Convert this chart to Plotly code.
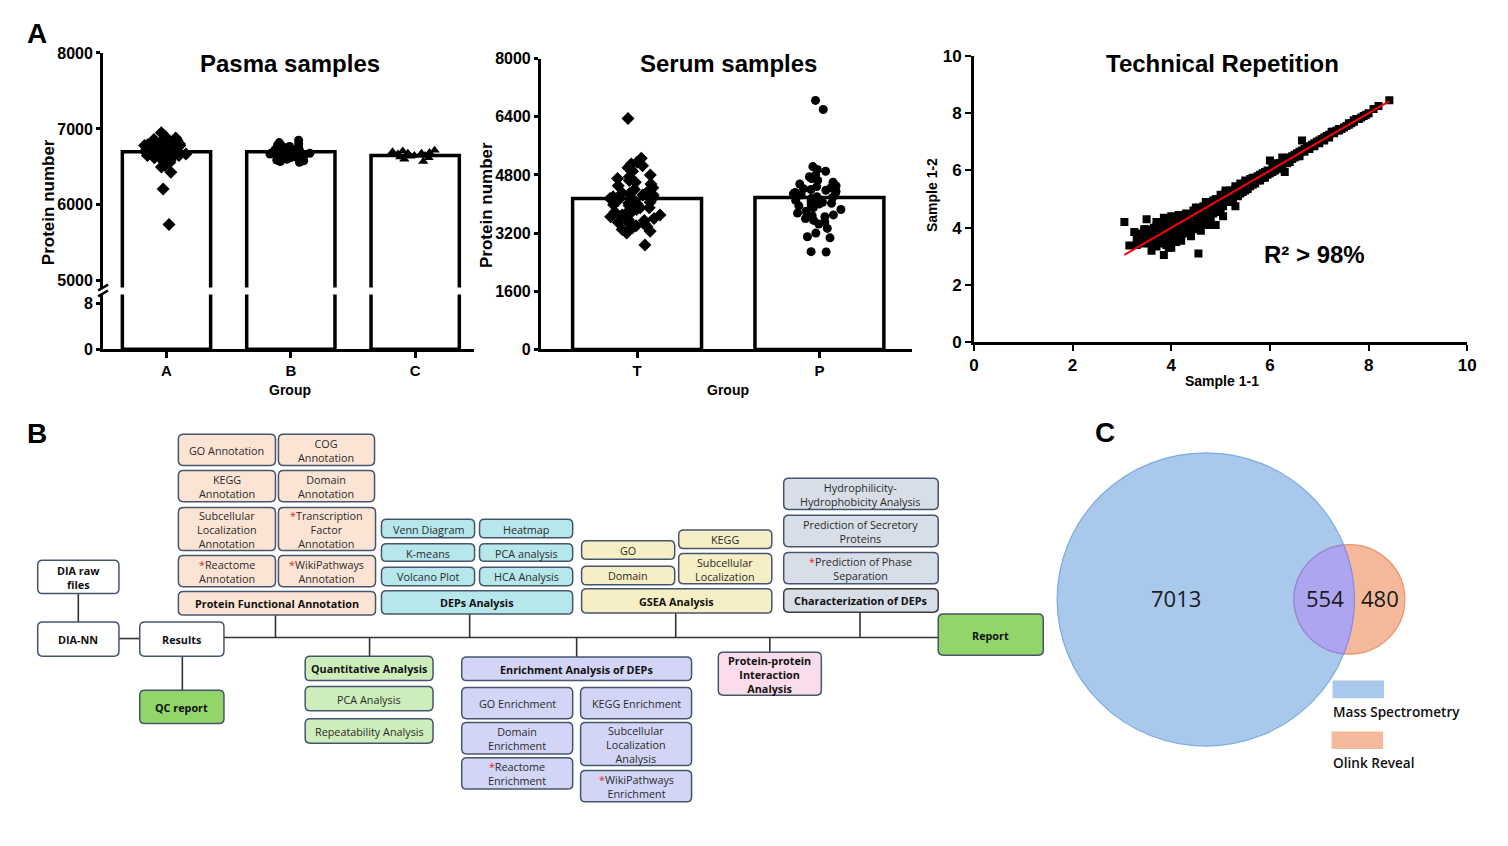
import numpy as np
import plotly.graph_objects as go

W, H = 1508, 846

# ---------------- DATA ----------------
plasma_groups = ["A", "B", "C"]
plasma_means = [6700, 6700, 6650]
plasma_A = [6950, 6900, 6880, 6860, 6850, 6840, 6830, 6820, 6810, 6800, 6800, 6790,
            6780, 6770, 6760, 6750, 6750, 6740, 6730, 6720, 6710, 6700, 6700, 6690,
            6680, 6670, 6660, 6650, 6640, 6630, 6620, 6600, 6580, 6560, 6520, 6500,
            6430, 6210, 5740, 6590, 6650, 6720, 6780]
plasma_B = [6850, 6820, 6800, 6790, 6780, 6770, 6760, 6750, 6740, 6730, 6720, 6720,
            6710, 6700, 6700, 6690, 6690, 6680, 6680, 6670, 6660, 6660, 6650, 6650,
            6640, 6630, 6620, 6610, 6600, 6590, 6580, 6570, 6560]
plasma_C = [6720, 6710, 6700, 6690, 6680, 6680, 6670, 6670, 6660, 6650, 6650, 6640,
            6630, 6620, 6600, 6570]

serum_groups = ["T", "P"]
serum_means = [4150, 4180]
serum_T = [6350, 5260, 5150, 5100, 5050, 5000, 4900, 4800, 4750, 4700, 4650, 4600,
           4550, 4500, 4450, 4400, 4350, 4300, 4280, 4250, 4200, 4180, 4150, 4100,
           4080, 4050, 4000, 3980, 3950, 3900, 3850, 3800, 3780, 3750, 3700, 3650,
           3600, 3550, 3500, 3480, 3450, 3400, 3380, 3350, 3300, 3250, 3200, 2870,
           4250, 3900, 3700, 4020, 3560]
serum_P = [6850, 6600, 5030, 4950, 4900, 4800, 4750, 4700, 4650, 4600, 4550, 4500,
           4480, 4450, 4400, 4380, 4350, 4300, 4280, 4250, 4200, 4180, 4150, 4120,
           4100, 4080, 4050, 4000, 3980, 3950, 3900, 3850, 3800, 3750, 3700, 3680,
           3650, 3600, 3550, 3500, 3450, 3330, 3200, 3070, 3100, 2690, 2680, 4420,
           4320, 4020]

rep_x = [3.05, 3.15, 3.25, 3.3, 3.35, 3.4, 3.45, 3.5, 3.5, 3.55, 3.6, 3.6, 3.65, 3.7, 3.7,
         3.75, 3.75, 3.8, 3.8, 3.85, 3.85, 3.9, 3.9, 3.95, 3.95, 4.0, 4.0, 4.0, 4.05, 4.05,
         4.1, 4.1, 4.15, 4.15, 4.2, 4.2, 4.25, 4.3, 4.3, 4.35, 4.35, 4.4, 4.45, 4.45, 4.5,
         4.5, 4.55, 4.55, 4.6, 4.6, 4.65, 4.7, 4.7, 4.75, 4.8, 4.8, 4.85, 4.9, 4.9, 4.95,
         5.0, 5.0, 5.05, 5.05, 5.1, 5.15, 5.2, 5.2, 5.25, 5.3, 5.3, 5.35, 5.4, 5.45, 5.5,
         5.55, 5.6, 5.65, 5.7, 5.75, 5.8, 5.85, 5.9, 5.95, 6.0, 6.0, 6.05, 6.1, 6.15, 6.2,
         6.25, 6.3, 6.3, 6.35, 6.4, 6.45, 6.5, 6.55, 6.6, 6.65, 6.65, 6.7, 6.75, 6.8, 6.85,
         6.9, 6.95, 7.0, 7.05, 7.1, 7.15, 7.2, 7.25, 7.3, 7.35, 7.4, 7.5, 7.55, 7.6, 7.7,
         7.8, 8.1, 8.2, 8.42,
         3.35, 3.45, 3.55, 3.65, 3.75, 3.85, 3.95, 4.05, 4.1, 4.2, 4.25, 4.4, 4.5, 4.6,
         4.65, 4.75, 4.85, 4.95, 5.1, 5.25, 5.4, 5.5, 5.6, 5.7, 5.8, 5.9, 6.1, 6.2, 6.4,
         6.5, 6.6, 6.9, 7.45, 7.65, 7.75, 7.85, 7.95,
         3.5, 3.7, 3.9, 4.1, 4.3, 4.5, 4.7, 4.9, 5.1, 5.3, 5.5,
         3.3, 3.4, 3.45, 3.5, 3.55, 3.6, 3.65, 3.7, 3.75, 3.8, 3.85, 3.9, 3.95, 4.0, 4.0,
         4.05, 4.1, 4.15, 4.2, 4.25, 4.3, 4.35, 4.4, 4.45, 4.5, 4.55, 4.6, 4.65, 4.7, 4.75,
         4.8, 4.85, 4.9, 4.95, 5.0, 5.05, 5.1, 5.15, 5.2, 5.25, 5.3, 5.35, 5.4, 5.45, 5.5,
         5.55, 5.6, 5.65, 5.75, 5.85, 5.95, 6.05, 6.15, 6.25, 6.35, 6.45, 6.55, 6.7, 6.8,
         7.0, 7.1, 7.2, 7.3, 7.4, 7.6, 7.7, 7.9, 8.0]
rep_y = [4.2, 3.38, 3.85, 3.6, 3.5, 3.75, 3.95, 4.3, 3.6, 3.45, 3.2, 3.8, 4.0, 3.55, 3.35,
         4.1, 3.7, 3.9, 3.45, 3.05, 4.35, 3.6, 4.2, 3.3, 3.85, 4.4, 4.0, 3.55, 3.75, 4.25,
         3.9, 3.5, 4.45, 4.05, 3.7, 4.3, 3.95, 4.5, 4.15, 3.8, 4.4, 4.0, 4.6, 4.25, 3.95,
         4.5, 3.1, 4.7, 4.3, 4.1, 4.75, 4.5, 4.2, 4.85, 4.6, 4.35, 4.95, 4.1, 4.7, 5.0,
         4.8, 4.55, 4.4, 5.1, 4.9, 5.2, 4.95, 5.05, 5.3, 4.75, 5.15, 5.4, 5.2, 5.5, 5.3,
         5.6, 5.45, 5.75, 5.55, 5.8, 5.65, 5.9, 5.75, 6.0, 6.35, 5.9, 6.1, 6.0, 6.25, 6.1,
         6.45, 5.95, 6.3, 6.4, 6.3, 6.5, 6.45, 6.6, 6.5, 7.05, 6.7, 6.65, 6.8, 6.75, 6.9,
         6.85, 7.0, 6.95, 7.1, 7.05, 7.2, 7.15, 7.35, 7.3, 7.4, 7.4, 7.5, 7.55, 7.65, 7.7,
         7.8, 8.15, 8.25, 8.45,
         3.8, 3.55, 3.9, 3.6, 3.9, 3.7, 4.1, 3.95, 4.2, 4.1, 4.2, 4.45, 4.3, 4.55,
         4.4, 4.6, 4.7, 4.85, 5.05, 5.1, 5.4, 5.55, 5.6, 5.75, 5.85, 5.95, 6.15, 6.25, 6.45,
         6.55, 6.65, 6.95, 7.45, 7.65, 7.8, 7.85, 7.95,
         3.95, 4.05, 4.0, 4.3, 4.35, 4.7, 4.9, 5.0, 5.3, 5.45, 5.65,
         3.4, 3.45, 3.7, 3.85, 3.65, 3.5, 3.8, 4.2, 3.5, 3.65, 3.95, 3.4, 4.3, 3.8, 3.3,
         4.1, 3.65, 3.85, 3.55, 4.4, 3.9, 4.15, 3.7, 4.05, 4.7, 4.2, 3.9, 4.6, 4.35, 4.1,
         4.8, 4.5, 4.9, 4.6, 5.15, 4.75, 5.2, 4.9, 5.3, 5.0, 5.35, 5.1, 5.55, 5.25, 5.45,
         5.35, 5.7, 5.5, 5.65, 5.75, 5.85, 5.95, 6.05, 6.2, 6.25, 6.4, 6.5, 6.75, 6.85,
         7.05, 7.15, 7.25, 7.35, 7.45, 7.6, 7.75, 7.9, 8.0]
fit_x = [3.05, 8.42]
fit_y = [3.05, 8.42]
r2_label = "R² > 98%"

venn_sets = ["Mass Spectrometry", "Olink Reveal"]
venn_counts = [7013, 554, 480]   # MS only, both, Olink only

plasma_ticks_upper = [5000, 6000, 7000, 8000]
plasma_ticks_lower = [0, 8]
serum_ticks = [0, 1600, 3200, 4800, 6400, 8000]
rep_ticks = [0, 2, 4, 6, 8, 10]

flow_boxes = [
    ("GO Annotation", "peach", False), ("COG<br>Annotation", "peach", False),
    ("KEGG<br>Annotation", "peach", False), ("Domain<br>Annotation", "peach", False),
    ("Subcellular<br>Localization<br>Annotation", "peach", False),
    ("*Transcription<br>Factor<br>Annotation", "peach", False),
    ("*Reactome<br>Annotation", "peach", False), ("*WikiPathways<br>Annotation", "peach", False),
    ("Protein Functional Annotation", "peach", True),
    ("DIA raw<br>files", "white", True), ("DIA-NN", "white", True), ("Results", "white", True),
    ("QC report", "green", True),
    ("Quantitative Analysis", "lgreen", True), ("PCA Analysis", "lgreen", False),
    ("Repeatability Analysis", "lgreen", False),
    ("Venn Diagram", "cyan", False), ("Heatmap", "cyan", False), ("K-means", "cyan", False),
    ("PCA analysis", "cyan", False), ("Volcano Plot", "cyan", False), ("HCA Analysis", "cyan", False),
    ("DEPs Analysis", "cyan", True),
    ("GO", "yellow", False), ("Domain", "yellow", False), ("KEGG", "yellow", False),
    ("Subcellular<br>Localization", "yellow", False), ("GSEA Analysis", "yellow", True),
    ("Enrichment Analysis of DEPs", "lav", True), ("GO Enrichment", "lav", False),
    ("KEGG Enrichment", "lav", False), ("Domain<br>Enrichment", "lav", False),
    ("Subcellular<br>Localization<br>Analysis", "lav", False),
    ("*Reactome<br>Enrichment", "lav", False), ("*WikiPathways<br>Enrichment", "lav", False),
    ("Protein-protein<br>Interaction<br>Analysis", "pink", True),
    ("Hydrophilicity-<br>Hydrophobicity Analysis", "gray", False),
    ("Prediction of Secretory<br>Proteins", "gray", False),
    ("*Prediction of Phase<br>Separation", "gray", False),
    ("Characterization of DEPs", "gray", True),
    ("Report", "green", True),
]

# ---------------- LAYOUT GEOMETRY (pixels) ----------------
box_geom = [
    (175, 435, 273, 467), (276, 435, 373, 467), (175, 472, 273, 504), (276, 472, 373, 504),
    (175, 510, 273, 554), (276, 510, 374, 554), (175, 559, 273, 591), (276, 559, 374, 591),
    (175, 596, 374, 620),
    (33, 564, 115, 598), (33, 627, 115, 662), (136, 627, 221, 662), (136, 697, 221, 731),
    (303, 662, 432, 687), (303, 693, 432, 718), (303, 726, 432, 751),
    (380, 522, 474, 541), (479, 522, 573, 541), (380, 547, 474, 565), (479, 547, 573, 565),
    (380, 571, 474, 590), (479, 571, 573, 590), (380, 595, 573, 619),
    (582, 544, 676, 563), (582, 570, 676, 589), (680, 533, 774, 552), (680, 557, 774, 588),
    (582, 593, 774, 618),
    (461, 663, 693, 687), (461, 694, 573, 726), (581, 694, 693, 726), (461, 730, 573, 762),
    (581, 730, 693, 774), (461, 766, 573, 798), (581, 779, 693, 811),
    (720, 658, 824, 702),
    (786, 480, 942, 512), (786, 518, 942, 550), (786, 556, 942, 588), (786, 593, 942, 617),
    (942, 619, 1048, 661),
]
connectors = [
    (74, 598, 74, 627), (115, 644, 136, 644), (179, 662, 179, 697),
    (221, 643, 942, 643),
    (273, 620, 273, 643), (368, 643, 368, 662), (469, 619, 469, 643), (577, 643, 577, 663),
    (677, 618, 677, 643), (772, 643, 772, 658), (863, 617, 863, 643),
]
fills = {"peach": "#FCE4D4", "white": "#FFFFFF", "green": "#92D66A", "lgreen": "#CDEEBB",
         "cyan": "#B6E7EB", "yellow": "#F6EEC4", "lav": "#D2D5F6", "pink": "#FADCEB",
         "gray": "#D8DEE8"}
BORDER = "#46556E"


def PX(x):
    return x / W


def PY(y):
    return 1 - y / H


def rrect(x0, y0, x1, y1, r=5):
    return (f"M{x0+r},{y0} L{x1-r},{y0} Q{x1},{y0} {x1},{y0+r} L{x1},{y1-r} "
            f"Q{x1},{y1} {x1-r},{y1} L{x0+r},{y1} Q{x0},{y1} {x0},{y1-r} "
            f"L{x0},{y0+r} Q{x0},{y0} {x0+r},{y0} Z")


ARIAL = "Liberation Sans, Arial, sans-serif"
FLOWF = "Open Sans, Noto Sans, sans-serif"

fig = go.Figure()

# ---- Panel A1: plasma (broken axis) ----
for ya in ["y", "y2"]:
    fig.add_trace(go.Bar(x=plasma_groups, y=plasma_means, width=0.71, xaxis="x", yaxis=ya,
                         marker=dict(color="white", line=dict(color="black", width=3.5)),
                         showlegend=False, hoverinfo="skip"))
for g, vals, sym, sz in [("A", plasma_A, "diamond", 10), ("B", plasma_B, "circle", 9),
                         ("C", plasma_C, "triangle-up", 9)]:
    fig.add_trace(go.Box(x=[g] * len(vals), y=vals, boxpoints="all", jitter=0.9, pointpos=0,
                         width=0.42, fillcolor="rgba(0,0,0,0)",
                         line=dict(width=0, color="rgba(0,0,0,0)"),
                         marker=dict(symbol=sym, size=sz, color="black"),
                         xaxis="x", yaxis="y", showlegend=False))

# ---- Panel A2: serum ----
fig.add_trace(go.Bar(x=serum_groups, y=serum_means, width=0.707, xaxis="x2", yaxis="y3",
                     marker=dict(color="white", line=dict(color="black", width=3.5)),
                     showlegend=False, hoverinfo="skip"))
for g, vals, sym, sz in [("T", serum_T, "diamond", 10), ("P", serum_P, "circle", 9)]:
    fig.add_trace(go.Box(x=[g] * len(vals), y=vals, boxpoints="all", jitter=0.9, pointpos=0,
                         width=0.36, fillcolor="rgba(0,0,0,0)",
                         line=dict(width=0, color="rgba(0,0,0,0)"),
                         marker=dict(symbol=sym, size=sz, color="black"),
                         xaxis="x2", yaxis="y3", showlegend=False))

# ---- Panel A3: technical repetition ----
fig.add_trace(go.Scatter(x=rep_x, y=rep_y, mode="markers", xaxis="x3", yaxis="y4",
                         marker=dict(symbol="square", size=8, color="black"), showlegend=False))
fig.add_trace(go.Scatter(x=fit_x, y=fit_y, mode="lines", xaxis="x3", yaxis="y4",
                         line=dict(color="red", width=2), showlegend=False))

# overlay pixel subplot
fig.add_trace(go.Scatter(x=[None], y=[None], xaxis="x4", yaxis="y5", showlegend=False))

axis_common = dict(showline=True, linecolor="black", showgrid=False, zeroline=False,
                   ticks="outside", tickcolor="black", fixedrange=True)
tf15 = dict(family=ARIAL, size=15, color="black", weight="bold")
tf16 = dict(family=ARIAL, size=16, color="black", weight="bold")
tf17 = dict(family=ARIAL, size=17, color="black", weight="bold")

fig.update_layout(
    width=W, height=H, margin=dict(l=0, r=0, t=0, b=0),
    paper_bgcolor="white", plot_bgcolor="rgba(0,0,0,0)", boxmode="overlay",
    xaxis=dict(domain=[PX(99), PX(473)], type="category", categoryarray=plasma_groups,
               range=[-0.51, 2.47], anchor="y2", linewidth=3, ticklen=6, tickwidth=2.5,
               tickfont=tf15, **axis_common),
    yaxis=dict(domain=[PY(285), PY(45)], range=[4910, 8000], anchor="x",
               tickvals=plasma_ticks_upper, linewidth=3, ticklen=4, tickwidth=2.5,
               tickfont=tf16, **axis_common),
    yaxis2=dict(domain=[PY(348), PY(292)], range=[0, 9.53], anchor="x",
                tickvals=plasma_ticks_lower, linewidth=3, ticklen=4, tickwidth=2.5,
                tickfont=tf16, **axis_common),
    xaxis2=dict(domain=[PX(541), PX(915)], type="category", categoryarray=serum_groups,
                range=[-0.527, 1.505], anchor="y3", linewidth=3, ticklen=6, tickwidth=2.5,
                tickfont=tf15, **axis_common),
    yaxis3=dict(domain=[PY(348.3), PY(50.7)], range=[0, 8000], anchor="x2",
                tickvals=serum_ticks, linewidth=3, ticklen=4, tickwidth=2.5,
                tickfont=tf16, **axis_common),
    xaxis3=dict(domain=[PX(978), PX(1476)], range=[0, 10], anchor="y4", tickvals=rep_ticks,
                linewidth=2.5, ticklen=6, tickwidth=2, tickfont=tf17, **axis_common),
    yaxis4=dict(domain=[PY(341), PY(48)], range=[0, 10], anchor="x3", tickvals=rep_ticks,
                linewidth=2.5, ticklen=6, tickwidth=2, tickfont=tf17, **axis_common),
    xaxis4=dict(domain=[0, 1], range=[0, W], visible=False, fixedrange=True, anchor="y5"),
    yaxis5=dict(domain=[0, 1], range=[H, 0], visible=False, fixedrange=True, anchor="x4"),
)

shapes = []
ann = []


def ptext(x, y, text, size, bold=True, angle=0, family=ARIAL, color="black", xanchor="center"):
    ann.append(dict(x=PX(x), y=PY(y), xref="paper", yref="paper", text=text, showarrow=False,
                    textangle=angle, xanchor=xanchor, yanchor="middle",
                    font=dict(family=family, size=size, color=color,
                              weight="bold" if bold else "normal")))


# panel labels / titles / axis titles
ptext(32, 25, "A", 28)
ptext(32, 434, "B", 28)
ptext(1110, 433, "C", 28)
ptext(288, 56, "Pasma samples", 24)
ptext(730, 56, "Serum samples", 24)
ptext(1229, 56, "Technical Repetition", 24)
ptext(44, 198, "Protein number", 17, angle=-90)
ptext(486, 200, "Protein number", 17, angle=-90)
ptext(935, 190, "Sample 1-2", 14, angle=-90)
ptext(288, 390, "Group", 14)
ptext(730, 390, "Group", 14)
ptext(1228, 381, "Sample 1-1", 14)
ann.append(dict(x=6.9, y=3.07, xref="x3", yref="y4", text=r2_label, showarrow=False,
                font=dict(family=ARIAL, size=24, color="black", weight="bold")))

# axis break marks
for dy in (0, 6):
    shapes.append(dict(type="line", xref="x4", yref="y5", x0=94, y0=290 + dy - 2, x1=104,
                       y1=284 + dy - 2, line=dict(color="black", width=2.5)))

# flowchart connectors
for (x0, y0, x1, y1) in connectors:
    shapes.append(dict(type="line", xref="x4", yref="y5", x0=x0, y0=y0, x1=x1, y1=y1,
                       line=dict(color="#333333", width=1.6), layer="above"))

# flowchart boxes
for (text, style, bold), (x0, y0, x1, y1) in zip(flow_boxes, box_geom):
    lc = "#3A3A3A" if text == "Characterization of DEPs" else BORDER
    shapes.append(dict(type="path", xref="x4", yref="y5", path=rrect(x0, y0, x1, y1),
                       fillcolor=fills[style], line=dict(color=lc, width=1.5), layer="above"))
    t = text.replace("*", "<span style='color:#E8242A'>*</span>")
    ann.append(dict(x=(x0 + x1) / 2, y=(y0 + y1) / 2 + 0.5, xref="x4", yref="y5", text=t,
                    showarrow=False, xanchor="center", yanchor="middle",
                    font=dict(family=FLOWF, size=10.8, color="#111111" if bold else "#2A2A2A",
                              weight="bold" if bold else "normal")))

# Venn diagram
bc, R = (1212, 604), 150
sc, r = (1357, 604), 56
shapes.append(dict(type="circle", xref="x4", yref="y5", x0=bc[0] - R, x1=bc[0] + R,
                   y0=bc[1] - R, y1=bc[1] + R, fillcolor="#A8C8EC",
                   line=dict(color="#7FAAE0", width=1.2), layer="above"))
shapes.append(dict(type="circle", xref="x4", yref="y5", x0=sc[0] - r, x1=sc[0] + r,
                   y0=sc[1] - r, y1=sc[1] + r, fillcolor="#F3B99A",
                   line=dict(color="#E8946A", width=1.2), layer="above"))
d = sc[0] - bc[0]
a = (d * d + R * R - r * r) / (2 * d)
h = np.sqrt(R * R - a * a)
ix = bc[0] + a
th_s = np.arctan2(h, ix - sc[0])
ang_s = np.linspace(th_s, 2 * np.pi - th_s, 60)
th_b = np.arctan2(h, a)
ang_b = np.linspace(-th_b, th_b, 40)
pts = [(sc[0] + r * np.cos(t), sc[1] - r * np.sin(t)) for t in ang_s]
pts += [(bc[0] + R * np.cos(t), bc[1] - R * np.sin(t)) for t in ang_b]
lens = "M" + " L".join(f"{x:.2f},{y:.2f}" for x, y in pts) + " Z"
shapes.append(dict(type="path", xref="x4", yref="y5", path=lens, fillcolor="#AEA5F1",
                   line=dict(color="#8C86E6", width=1.2), layer="above"))
for val, x in zip(venn_counts, [1182, 1332, 1388]):
    ann.append(dict(x=x, y=603, xref="x4", yref="y5", text=str(val), showarrow=False,
                    font=dict(family=FLOWF, size=22, color="#1A1A1A")))
for name, col, (x0, y0, x1, y1), ty in zip(venn_sets, ["#A8C8EC", "#F3B99A"],
                                           [(1340, 687, 1392, 705), (1339, 739, 1391, 757)],
                                           [719, 771]):
    shapes.append(dict(type="rect", xref="x4", yref="y5", x0=x0, y0=y0, x1=x1, y1=y1,
                       fillcolor=col, line=dict(width=0), layer="above"))
    ann.append(dict(x=1338, y=ty, xref="x4", yref="y5", text=name, showarrow=False,
                    xanchor="left", yanchor="middle",
                    font=dict(family=FLOWF, size=13.6, color="#111111", weight=600)))

fig.update_layout(shapes=shapes, annotations=ann)
fig.write_html("out.html", config={"displayModeBar": False},
               post_script="document.body.style.margin='0px';"
                           "document.body.style.overflow='hidden';")
